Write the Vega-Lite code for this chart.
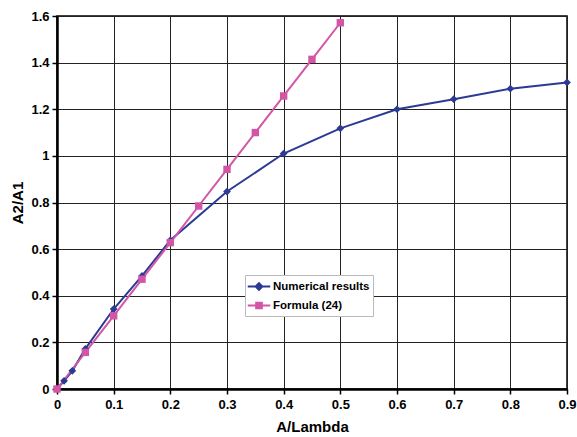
{
  "$schema": "https://vega.github.io/schema/vega-lite/v6.json",
  "autosize": "none",
  "width": 510,
  "height": 373,
  "padding": {"left": 57, "top": 16, "right": 10, "bottom": 48},
  "background": "white",
  "config": {
    "font": "Liberation Sans",
    "view": {"stroke": "black", "strokeWidth": 1.5},
    "axis": {
      "labelFont": "Liberation Sans", "labelFontWeight": "bold", "labelFontSize": 13, "labelColor": "black",
      "titleFont": "Liberation Sans", "titleFontWeight": "bold", "titleFontSize": 15, "titleColor": "black",
      "gridColor": "#222222", "gridOpacity": 1, "gridWidth": 1,
      "domainColor": "black", "domainWidth": 2.5, "tickColor": "black", "tickSize": 5, "tickWidth": 1.5
    }
  },
  "data": {"values": [
    {"x": 0, "y": 0, "s": "Numerical results"},
    {"x": 0.0125, "y": 0.035, "s": "Numerical results"},
    {"x": 0.027, "y": 0.078, "s": "Numerical results"},
    {"x": 0.05, "y": 0.172, "s": "Numerical results"},
    {"x": 0.1, "y": 0.343, "s": "Numerical results"},
    {"x": 0.15, "y": 0.485, "s": "Numerical results"},
    {"x": 0.2, "y": 0.638, "s": "Numerical results"},
    {"x": 0.3, "y": 0.847, "s": "Numerical results"},
    {"x": 0.4, "y": 1.01, "s": "Numerical results"},
    {"x": 0.5, "y": 1.118, "s": "Numerical results"},
    {"x": 0.6, "y": 1.2, "s": "Numerical results"},
    {"x": 0.7, "y": 1.243, "s": "Numerical results"},
    {"x": 0.8, "y": 1.288, "s": "Numerical results"},
    {"x": 0.9, "y": 1.315, "s": "Numerical results"},
    {"x": 0, "y": 0, "s": "Formula (24)"},
    {"x": 0.05, "y": 0.157, "s": "Formula (24)"},
    {"x": 0.1, "y": 0.314, "s": "Formula (24)"},
    {"x": 0.15, "y": 0.471, "s": "Formula (24)"},
    {"x": 0.2, "y": 0.628, "s": "Formula (24)"},
    {"x": 0.25, "y": 0.785, "s": "Formula (24)"},
    {"x": 0.3, "y": 0.942, "s": "Formula (24)"},
    {"x": 0.35, "y": 1.1, "s": "Formula (24)"},
    {"x": 0.4, "y": 1.257, "s": "Formula (24)"},
    {"x": 0.45, "y": 1.414, "s": "Formula (24)"},
    {"x": 0.5, "y": 1.571, "s": "Formula (24)"}
  ]},
  "encoding": {
    "x": {"field": "x", "type": "quantitative", "title": "A/Lambda",
      "scale": {"domain": [0, 0.9], "nice": false, "zero": false},
      "axis": {"values": [0,0.1,0.2,0.3,0.4,0.5,0.6,0.7,0.8,0.9], "format": ".1~f", "labelPadding": 4, "titlePadding": 8, "labelFlush": false}},
    "y": {"field": "y", "type": "quantitative", "title": "A2/A1",
      "scale": {"domain": [0, 1.6], "nice": false, "zero": false},
      "axis": {"values": [0,0.2,0.4,0.6,0.8,1,1.2,1.4,1.6], "format": ".1~f", "labelPadding": 3, "titlePadding": 5, "labelFlush": false}},
    "color": {"field": "s", "type": "nominal", "sort": ["Numerical results", "Formula (24)"],
      "scale": {"domain": ["Numerical results", "Formula (24)"], "range": ["#2B3A93", "#D256A5"]},
      "legend": {"title": null, "orient": "none", "legendX": 188, "legendY": 259,
        "strokeColor": "#bbbbbb", "fillColor": "white", "padding": 3,
        "labelFont": "Liberation Sans", "labelFontWeight": "bold", "labelFontSize": 11.5, "labelColor": "black",
        "symbolSize": 225, "symbolStrokeWidth": 2, "rowPadding": 3, "labelOffset": 8, "offset": 0,
        "encode": {"symbols": {"update": {
          "shape": {"signal": "datum.value === 'Numerical results' ? 'M-1.5,0L1.5,0M0,-0.45L0.45,0L0,0.45L-0.45,0Z' : 'M-1.5,0L1.5,0M-0.38,-0.38L0.38,-0.38L0.38,0.38L-0.38,0.38Z'"},
          "fill": {"signal": "datum.value === 'Numerical results' ? '#2B3A93' : '#D256A5'"},
          "fillOpacity": {"value": 1},
          "x": {"value": 11}
        }}}}}
  },
  "layer": [
    {"mark": {"type": "line", "strokeWidth": 2}},
    {"mark": {"type": "point", "filled": true, "opacity": 1, "shape": "diamond", "size": 60},
     "transform": [{"filter": "datum.s === 'Numerical results'"}]},
    {"mark": {"type": "point", "filled": true, "opacity": 1, "shape": "square", "size": 55},
     "transform": [{"filter": "datum.s === 'Formula (24)'"}]}
  ]
}
